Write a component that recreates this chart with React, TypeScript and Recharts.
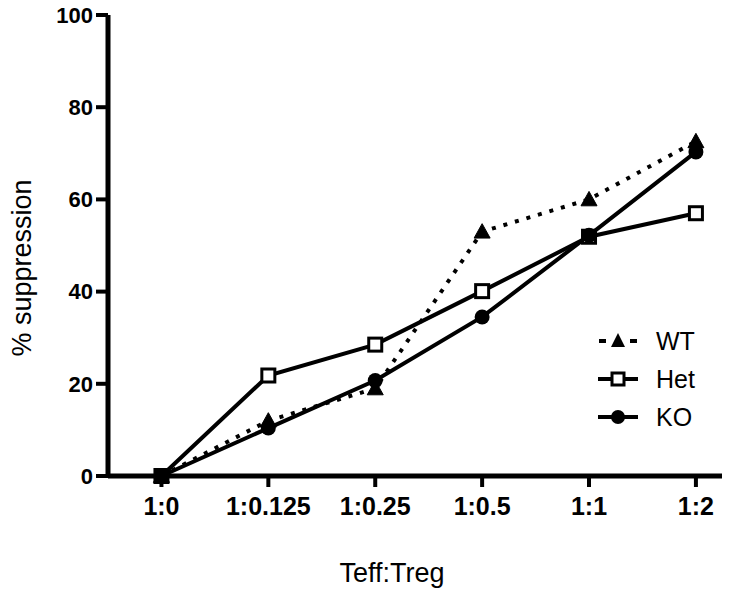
import React from 'react';
import { LineChart, Line, XAxis, YAxis } from 'recharts';

const categories = ['1:0', '1:0.125', '1:0.25', '1:0.5', '1:1', '1:2'];
const wtValues = [0, 12, 19, 53, 60, 72.6];
const hetValues = [0, 21.8, 28.5, 40.1, 51.9, 57];
const koValues = [0, 10.4, 20.7, 34.5, 52.2, 70.3];
const yTicks = [0, 20, 40, 60, 80, 100];
const seriesNames = ['WT', 'Het', 'KO'];

const data = categories.map((c, i) => ({
  idx: i,
  cat: c,
  WT: wtValues[i],
  Het: hetValues[i],
  KO: koValues[i],
}));

const FONT = '"Liberation Sans", Arial, Helvetica, sans-serif';

const Triangle = (props: any) => {
  const { cx, cy, index } = props;
  if (cx == null || cy == null) return <g key={'t' + index} />;
  const w = 8, h = 8;
  return (
    <polygon
      key={'t' + index}
      points={`${cx},${cy - h} ${cx - w},${cy + h * 0.8} ${cx + w},${cy + h * 0.8}`}
      fill="#000"
      stroke="#000"
      strokeWidth={1}
    />
  );
};

const Square = (props: any) => {
  const { cx, cy, index } = props;
  if (cx == null || cy == null) return <g key={'s' + index} />;
  const s = 6.5;
  return (
    <rect key={'s' + index} x={cx - s} y={cy - s} width={2 * s} height={2 * s} fill="#fff" stroke="#000" strokeWidth={3} />
  );
};

const Circle = (props: any) => {
  const { cx, cy, index } = props;
  if (cx == null || cy == null) return <g key={'c' + index} />;
  return <circle key={'c' + index} cx={cx} cy={cy} r={7.5} fill="#000" />;
};

const LegendBox = () => {
  const kinds = ['tri', 'sq', 'circ'];
  return (
    <div style={{ position: 'absolute', left: 598, top: 322, fontFamily: FONT }}>
      {seriesNames.map((name, i) => (
        <div key={name} style={{ display: 'flex', alignItems: 'center', height: 38 }}>
          <svg width={40} height={24} style={{ marginRight: 18 }}>
            {kinds[i] === 'tri' ? (
              <g>
                <line x1={1} y1={12} x2={8} y2={12} stroke="#000" strokeWidth={4} />
                <line x1={32} y1={12} x2={39} y2={12} stroke="#000" strokeWidth={4} />
                <polygon points="20,4 13,18 27,18" fill="#000" />
              </g>
            ) : kinds[i] === 'sq' ? (
              <g>
                <line x1={0} y1={12} x2={40} y2={12} stroke="#000" strokeWidth={4} />
                <rect x={14} y={6} width={12} height={12} fill="#fff" stroke="#000" strokeWidth={3} />
              </g>
            ) : (
              <g>
                <line x1={0} y1={12} x2={40} y2={12} stroke="#000" strokeWidth={4} />
                <circle cx={20} cy={12} r={7} fill="#000" />
              </g>
            )}
          </svg>
          <span style={{ fontSize: 25, color: '#000', lineHeight: '25px' }}>{name}</span>
        </div>
      ))}
    </div>
  );
};

const XTitle = () => (
  <text x={392} y={582} textAnchor="middle" fontFamily={FONT} fontSize={27} fill="#000">
    Teff:Treg
  </text>
);

const YTitle = () => (
  <text
    x={0}
    y={0}
    transform="translate(31,268) rotate(-90)"
    textAnchor="middle"
    fontFamily={FONT}
    fontSize={27}
    fill="#000"
  >
    % suppression
  </text>
);

export default function App() {
  return (
    <div style={{ position: 'absolute', left: 0, top: 0, width: 744, height: 592, background: '#fff' }}>
      <LineChart width={744} height={592} data={data} margin={{ top: 15, right: 22, bottom: 0, left: 8 }}>
        <XAxis
          dataKey="idx"
          type="number"
          domain={[-0.5, 5.244]}
          ticks={[0, 1, 2, 3, 4, 5]}
          tickFormatter={(v: number) => categories[v]}
          height={116}
          axisLine={{ stroke: '#000', strokeWidth: 5 }}
          tickLine={{ stroke: '#000', strokeWidth: 4 }}
          tickSize={11}
          tickMargin={10}
          tick={{ fill: '#000', fontSize: 25, fontWeight: 'bold', fontFamily: FONT }}
          label={<XTitle />}
          interval={0}
        />
        <YAxis
          type="number"
          domain={[0, 100]}
          ticks={yTicks}
          width={100}
          axisLine={{ stroke: '#000', strokeWidth: 5 }}
          tickLine={{ stroke: '#000', strokeWidth: 4 }}
          tickSize={12}
          tickMargin={3}
          tick={{ fill: '#000', fontSize: 22, fontWeight: 'bold', fontFamily: FONT }}
          label={<YTitle />}
        />
        <Line
          dataKey="WT"
          stroke="#000"
          strokeWidth={4}
          strokeDasharray="4 8"
          dot={Triangle}
          isAnimationActive={false}
        />
        <Line dataKey="Het" stroke="#000" strokeWidth={4} dot={Square} isAnimationActive={false} />
        <Line dataKey="KO" stroke="#000" strokeWidth={4} dot={Circle} isAnimationActive={false} />
      </LineChart>
      <LegendBox />
    </div>
  );
}
